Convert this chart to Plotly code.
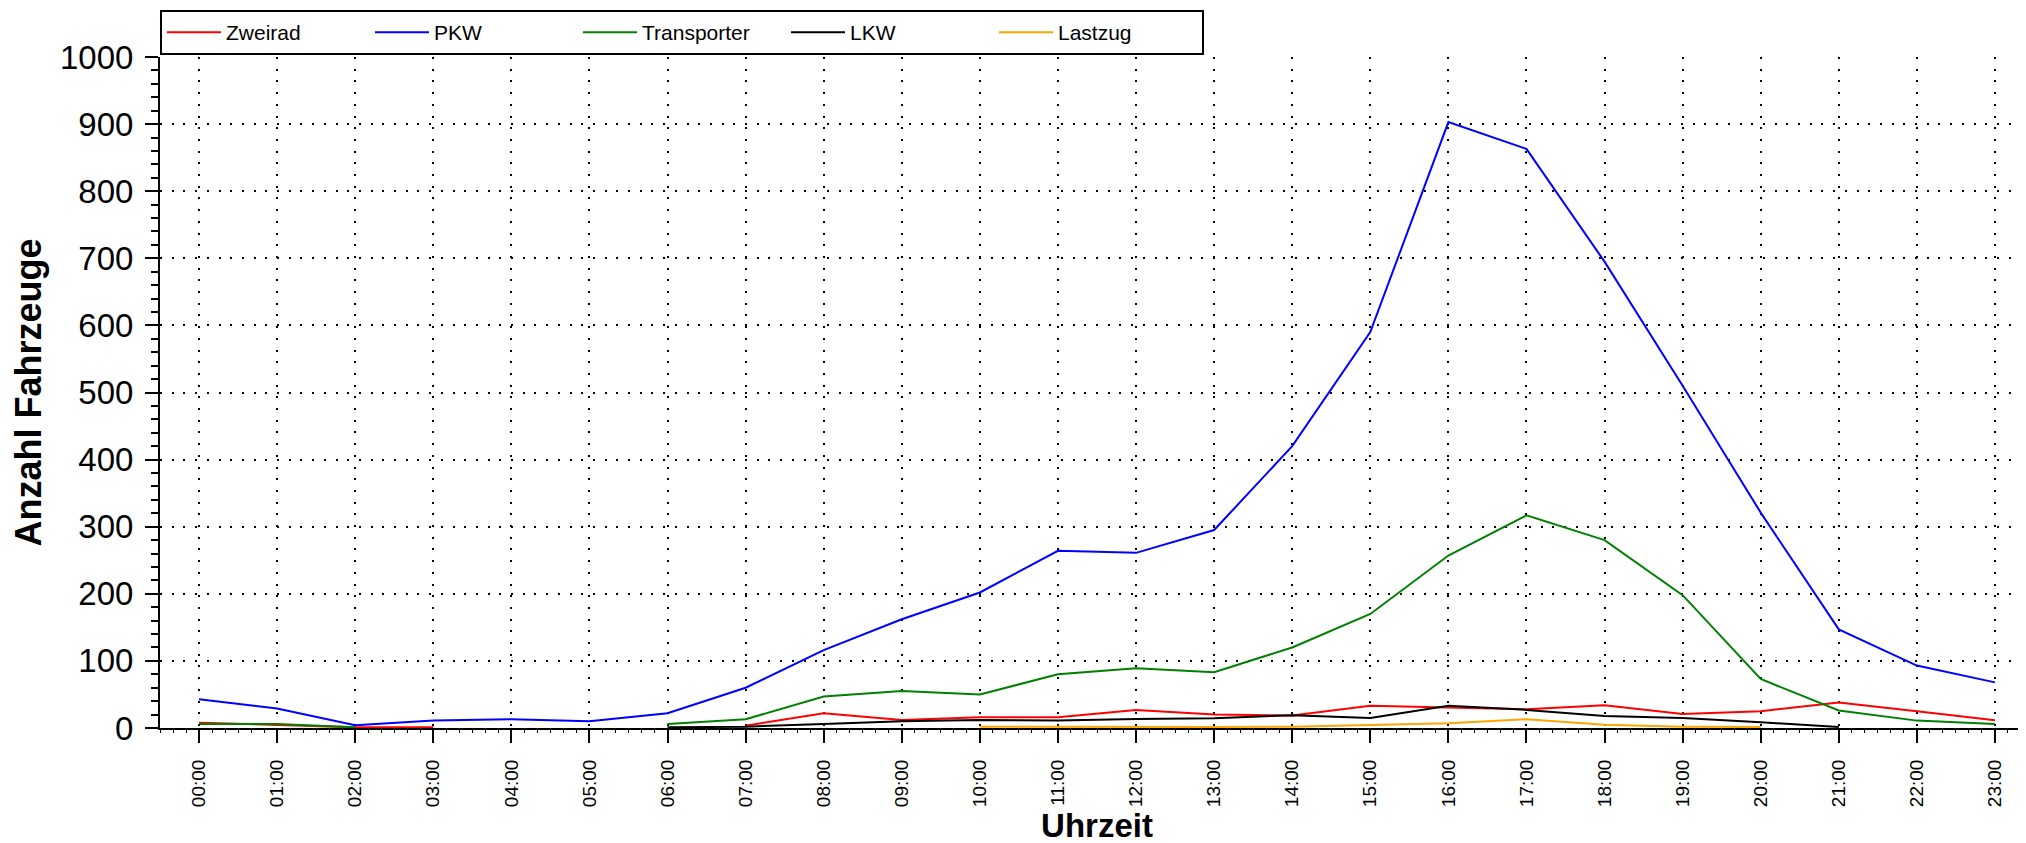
import plotly.graph_objects as go

# ---- data ----
hour_labels = ["00:00", "01:00", "02:00", "03:00", "04:00", "05:00", "06:00", "07:00",
               "08:00", "09:00", "10:00", "11:00", "12:00", "13:00", "14:00", "15:00",
               "16:00", "17:00", "18:00", "19:00", "20:00", "21:00", "22:00", "23:00"]
hour_pos = list(range(24))

zweirad = [8, 4, 1, 1, None, None, None, 3.5, 22, 12, 16, 16, 27, 20, 18.5, 33,
           30, 28, 34, 21, 25, 38, 25, 11.5]
pkw = [43, 29, 4, 11, 13, 10, 22, 60, 116, 162, 202, 264, 261, 295, 420, 590,
       903, 863, 695, 510, 321, 147, 93, 68]
transporter = [6, 6, 1, None, None, None, 6, 13, 47, 55, 50, 80, 89, 83, 120, 170,
               257, 317, 280, 198, 73, 26, 11, 6]
lkw = [None, None, None, None, None, None, 1, 2, 6, 10, 12, 11, 13.5, 14.5, 19, 15,
       33, 27, 18, 15, 8.5, 1.5, None, None]
lastzug = [None, None, None, None, None, None, None, None, None, None, 2, 1.5, 1, 1.5, 2, 4,
           7, 13, 5, 2, 1.5, None, None, None]

series_names = ["Zweirad", "PKW", "Transporter", "LKW", "Lastzug"]
series_values = [zweirad, pkw, transporter, lkw, lastzug]
series_colors = ["#ff0000", "#0000ff", "#008000", "#000000", "#ffa500"]

FONT = "Arial, Liberation Sans, sans-serif"
XR = [-0.5, 23.5]
YR = [0, 1000]

fig = go.Figure()
for name, vals, col in zip(series_names, series_values, series_colors):
    fig.add_trace(go.Scatter(x=hour_pos, y=vals, name=name, mode="lines",
                             line=dict(color=col, width=2), connectgaps=False))

grid_dash = "2px,9.7px"

fig.update_layout(
    width=2026, height=843,
    margin=dict(l=152, r=0, t=49, b=123, autoexpand=False),
    paper_bgcolor="white", plot_bgcolor="white",
    font=dict(family=FONT, color="black"),
    showlegend=True,
    legend=dict(orientation="h", x=0, xanchor="left", y=(720 - 2) / 671, yanchor="top",
                bordercolor="black", borderwidth=2, bgcolor="white",
                font=dict(size=21, family=FONT), entrywidth=139, itemwidth=54),
    xaxis=dict(
        range=XR, tickmode="array", tickvals=hour_pos, ticktext=hour_labels,
        tickangle=-90, ticks="outside", ticklen=13, tickwidth=2, tickcolor="black",
        tickfont=dict(size=19, family=FONT), ticklabelstandoff=9,
        showline=True, linewidth=2, linecolor="black",
        showgrid=True, gridcolor="black", gridwidth=2, griddash=grid_dash,
        zeroline=False, automargin=False,
        minor=dict(ticks="outside", ticklen=3, tickwidth=1, tickcolor="black",
                   dtick=1 / 6, tick0=0, showgrid=False),
        title=dict(text="Uhrzeit", font=dict(size=33, family=FONT, weight="bold"), standoff=0),
    ),
    xaxis2=dict(
        overlaying="x", side="bottom", anchor="y", range=XR,
        tickmode="linear", tick0=0, dtick=1,
        ticks="inside", ticklen=13, tickwidth=2, tickcolor="black",
        showticklabels=False, showgrid=False, zeroline=False,
        showline=True, linewidth=2, linecolor="black", mirror="allticks",
        minor=dict(ticks="inside", ticklen=3, tickwidth=1, tickcolor="black",
                   dtick=1 / 6, tick0=0, showgrid=False),
    ),
    yaxis=dict(
        range=YR, tickmode="linear", tick0=0, dtick=100,
        ticks="outside", ticklen=13, tickwidth=2, tickcolor="black",
        tickfont=dict(size=33, family=FONT), ticklabelstandoff=5,
        showline=True, linewidth=2, linecolor="black",
        showgrid=True, gridcolor="black", gridwidth=2, griddash=grid_dash,
        zeroline=False, automargin=False,
        minor=dict(ticks="outside", ticklen=7, tickwidth=2, tickcolor="black",
                   dtick=20, tick0=0, showgrid=False),
        title=dict(text="Anzahl Fahrzeuge", font=dict(size=36, family=FONT, weight="bold"), standoff=12),
    ),
    yaxis2=dict(
        overlaying="y", side="left", anchor="x", range=YR,
        tickmode="linear", tick0=0, dtick=100,
        ticks="inside", ticklen=13, tickwidth=2, tickcolor="black",
        showticklabels=False, showgrid=False, zeroline=False, showline=False,
        minor=dict(ticks="inside", ticklen=7, tickwidth=2, tickcolor="black",
                   dtick=20, tick0=0, showgrid=False),
    ),
)

fig.write_html("out.html")
